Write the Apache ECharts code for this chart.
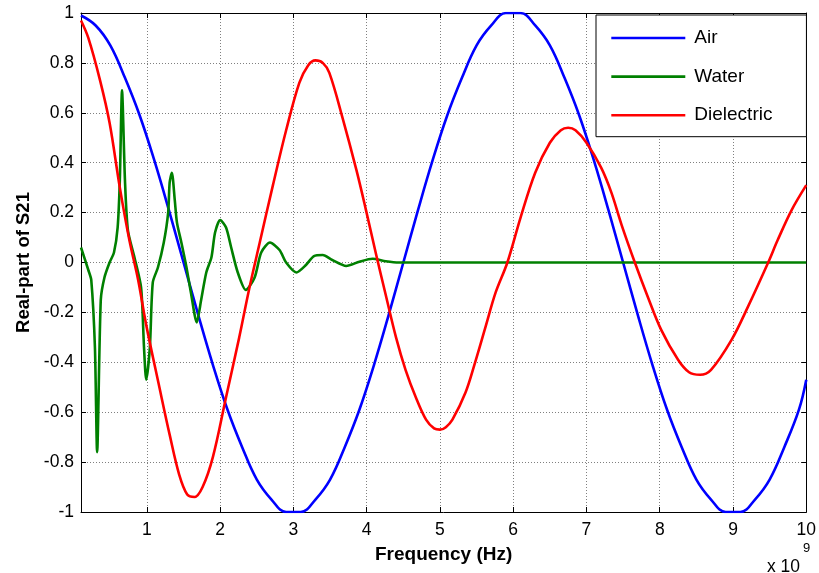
<!DOCTYPE html>
<html>
<head>
<meta charset="utf-8">
<script src="https://cdn.jsdelivr.net/npm/echarts@6/dist/echarts.min.js"></script>
<style>
  html, body { margin: 0; padding: 0; background: #fff; }
  #main { width: 819px; height: 573px; }
</style>
</head>
<body>
<div id="main"></div>
<script>
// Air: frequency grid (x 10^9 Hz) and real part of S21
var airFreq = [0.1, 0.3, 0.5, 0.7, 0.9, 1.1, 1.3, 1.5, 1.7, 1.9,
  2.1, 2.3, 2.5, 2.7, 2.9, 3.1, 3.3, 3.5, 3.7, 3.9,
  4.1, 4.3, 4.5, 4.7, 4.9, 5.1, 5.3, 5.5, 5.7, 5.9,
  6.1, 6.3, 6.5, 6.7, 6.9, 7.1, 7.3, 7.5, 7.7, 7.9,
  8.1, 8.3, 8.5, 8.7, 8.9, 9.1, 9.3, 9.5, 9.7, 9.9, 10];
var airVal = [0.99, 0.95, 0.87, 0.74, 0.59, 0.41, 0.21, 0.0, -0.21, -0.41,
  -0.59, -0.74, -0.87, -0.95, -1.0, -1.0, -0.95, -0.87, -0.74, -0.59,
  -0.41, -0.21, 0.0, 0.21, 0.41, 0.59, 0.74, 0.87, 0.95, 1.0,
  1.0, 0.95, 0.87, 0.74, 0.59, 0.41, 0.21, 0.0, -0.21, -0.41,
  -0.59, -0.74, -0.87, -0.95, -1.0, -1.0, -0.95, -0.87, -0.74, -0.59, -0.47];

// Water: sharp resonances at low frequency, flat afterwards
var waterFreq = [0.1, 0.2, 0.24, 0.29, 0.32, 0.37, 0.42, 0.49, 0.55, 0.6,
  0.63, 0.66, 0.7, 0.74, 0.83, 0.92, 0.96, 0.99, 1.04, 1.08,
  1.15, 1.23, 1.29, 1.31, 1.34, 1.38, 1.41, 1.47, 1.54, 1.6,
  1.68, 1.74, 1.81, 1.88, 1.93, 2.0, 2.08, 2.15, 2.24, 2.35,
  2.47, 2.56, 2.68, 2.81, 2.9, 3.04, 3.17, 3.28, 3.4, 3.53,
  3.72, 3.9, 4.08, 4.26, 4.44, 5, 6, 7, 8, 9, 10];
var waterVal = [0.06, -0.03, -0.07, -0.34, -0.76, -0.15, -0.06, 0.0, 0.04, 0.14,
  0.33, 0.69, 0.33, 0.13, 0.02, -0.1, -0.34, -0.47, -0.34, -0.08,
  -0.02, 0.08, 0.2, 0.32, 0.36, 0.25, 0.16, 0.08, -0.02, -0.12,
  -0.24, -0.15, -0.04, 0.02, 0.12, 0.17, 0.14, 0.06, -0.04, -0.11,
  -0.06, 0.04, 0.08, 0.05, 0.0, -0.04, -0.01, 0.026, 0.03, 0.01,
  -0.014, 0.003, 0.015, 0.005, 0.0, 0, 0, 0, 0, 0, 0];

// Dielectric: damped oscillation
var dielFreq = [0.1, 0.2, 0.36, 0.49, 0.63, 0.76, 0.88, 0.99, 1.17, 1.31,
  1.44, 1.55, 1.65, 1.76, 1.9, 2.08, 2.26, 2.4, 2.54, 2.72,
  2.9, 3.08, 3.2, 3.3, 3.4, 3.49, 3.67, 3.86, 3.99, 4.13,
  4.26, 4.4, 4.53, 4.67, 4.81, 4.92, 5.0, 5.08, 5.17, 5.35,
  5.48, 5.62, 5.76, 5.92, 6.1, 6.3, 6.5, 6.65, 6.75, 6.85,
  7.0, 7.2, 7.34, 7.48, 7.66, 7.84, 8.02, 8.25, 8.4, 8.55,
  8.7, 8.98, 9.2, 9.48, 9.61, 9.8, 10];
var dielVal = [0.97, 0.90, 0.73, 0.56, 0.30, 0.09, -0.07, -0.25, -0.50, -0.69,
  -0.85, -0.93, -0.94, -0.90, -0.78, -0.54, -0.30, -0.10, 0.08, 0.31,
  0.53, 0.72, 0.79, 0.81, 0.80, 0.76, 0.58, 0.37, 0.21, 0.03,
  -0.13, -0.30, -0.43, -0.54, -0.63, -0.665, -0.67, -0.66, -0.63, -0.52,
  -0.40, -0.26, -0.12, 0.0, 0.18, 0.36, 0.48, 0.53, 0.54, 0.53,
  0.48, 0.38, 0.28, 0.15, 0.0, -0.14, -0.27, -0.39, -0.44, -0.45,
  -0.43, -0.31, -0.18, 0.0, 0.09, 0.21, 0.31];

function zip(xs, ys) {
  return xs.map(function (x, i) { return [x, ys[i]]; });
}

var chart = echarts.init(document.getElementById('main'));

var font = 'Liberation Sans, Arial, sans-serif';
var gridLine = { show: true, showMinLine: false, showMaxLine: false,
  lineStyle: { color: '#808080', type: [1, 2], width: 1 } };
var axLine = { show: true, onZero: false, lineStyle: { color: '#000', width: 1 } };
var tick = { show: true, inside: true, length: 5, lineStyle: { color: '#000' } };

var option = {
  backgroundColor: '#fff',
  animation: false,
  grid: { left: 81, right: 10, top: 13, bottom: 61 },
  legend: {
    orient: 'vertical',
    left: 596,
    top: 15,
    padding: [13.5, 34, 12, 14],
    backgroundColor: '#fff',
    borderColor: '#000',
    borderWidth: 1,
    borderRadius: 0,
    itemWidth: 74,
    itemHeight: 20,
    itemGap: 19.6,
    itemStyle: { opacity: 0 },
    lineStyle: { width: 2.6 },
    textStyle: { fontFamily: font, fontSize: 19, color: '#000', padding: [0, 0, 0, 4] },
    data: ['Air', 'Water', 'Dielectric']
  },
  xAxis: [{
    type: 'value',
    min: 0.1,
    max: 10,
    splitNumber: 10,
    name: 'Frequency (Hz)',
    nameLocation: 'middle',
    nameGap: 33,
    nameTextStyle: { fontFamily: font, fontSize: 19, fontWeight: 'bold', color: '#000' },
    axisLine: axLine,
    axisTick: tick,
    axisLabel: {
      margin: 9,
      fontFamily: font, fontSize: 17.5, color: '#000',
      formatter: function (v) {
        return Math.abs(v - Math.round(v)) < 1e-6 ? String(Math.round(v)) : '';
      }
    },
    splitLine: gridLine
  }, {
    type: 'value',
    position: 'top',
    min: 0.1,
    max: 10,
    splitNumber: 10,
    axisLine: axLine,
    axisTick: tick,
    axisLabel: { show: false },
    splitLine: { show: false }
  }],
  yAxis: [{
    type: 'value',
    min: -1,
    max: 1,
    interval: 0.2,
    name: 'Real-part of S21',
    nameLocation: 'middle',
    nameGap: 48,
    nameTextStyle: { fontFamily: font, fontSize: 18.5, fontWeight: 'bold', color: '#000' },
    axisLine: axLine,
    axisTick: tick,
    axisLabel: { margin: 7, fontFamily: font, fontSize: 17.5, color: '#000' },
    splitLine: gridLine
  }, {
    type: 'value',
    position: 'right',
    min: -1,
    max: 1,
    interval: 0.2,
    axisLine: axLine,
    axisTick: tick,
    axisLabel: { show: false },
    splitLine: { show: false }
  }],
  series: [{
    name: 'Air',
    type: 'line',
    symbol: 'none',
    smooth: 0.4,
    color: '#0000ff',
    lineStyle: { width: 2.6 },
    data: zip(airFreq, airVal)
  }, {
    name: 'Water',
    type: 'line',
    symbol: 'none',
    smooth: 0.25,
    color: '#008000',
    lineStyle: { width: 2.6 },
    data: zip(waterFreq, waterVal)
  }, {
    name: 'Dielectric',
    type: 'line',
    symbol: 'none',
    smooth: 0.35,
    color: '#ff0000',
    lineStyle: { width: 2.6 },
    data: zip(dielFreq, dielVal)
  }],
  graphic: [{
    type: 'text',
    right: 19,
    top: 558,
    style: { text: 'x 10', font: '17.5px ' + font, fill: '#000' }
  }, {
    type: 'text',
    left: 803,
    top: 542,
    style: { text: '9', font: '13px ' + font, fill: '#000' }
  }]
};

chart.setOption(option);
</script>
</body>
</html>
